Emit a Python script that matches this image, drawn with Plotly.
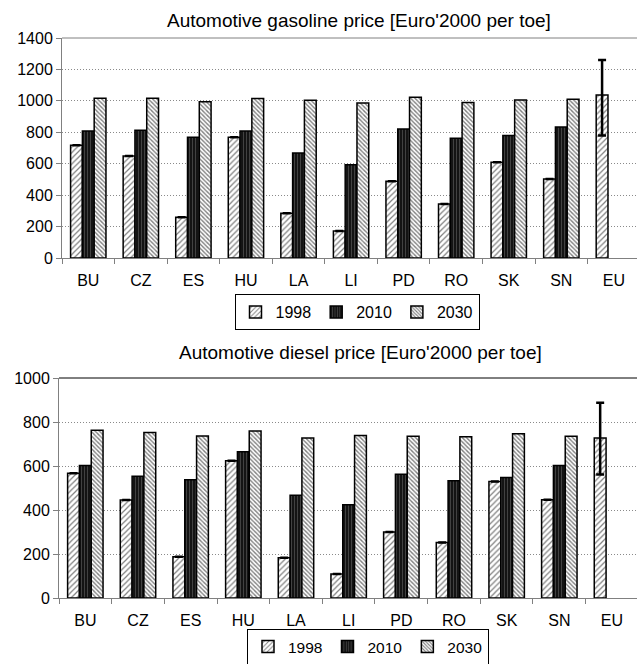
import plotly.graph_objects as go

# Countries (EU average shown as the last category)
countries = ["BU", "CZ", "ES", "HU", "LA", "LI", "PD", "RO", "SK", "SN", "EU"]

# Automotive gasoline price [Euro'2000 per toe]
gas_1998 = [717, 649, 260, 768, 285, 172, 489, 343, 609, 502, 1038]
gas_2010 = [808, 813, 768, 808, 668, 594, 821, 762, 779, 834, None]
gas_2030 = [1017, 1017, 994, 1015, 1004, 987, 1023, 989, 1006, 1011, None]
gas_eu_err_plus = [0, 0, 0, 0, 0, 0, 0, 0, 0, 0, 222]
gas_eu_err_minus = [0, 0, 0, 0, 0, 0, 0, 0, 0, 0, 259]

# Automotive diesel price [Euro'2000 per toe]
die_1998 = [567, 445, 188, 624, 183, 109, 300, 252, 529, 447, 727]
die_2010 = [602, 553, 538, 665, 467, 424, 562, 533, 548, 602, None]
die_2030 = [762, 752, 736, 759, 727, 739, 735, 733, 747, 735, None]
die_eu_err_plus = [0, 0, 0, 0, 0, 0, 0, 0, 0, 0, 161]
die_eu_err_minus = [0, 0, 0, 0, 0, 0, 0, 0, 0, 0, 166]

years = ["1998", "2010", "2030"]

FONT = "Liberation Sans, Arial, sans-serif"

patterns = {
    "1998": dict(shape="/", fgcolor="#000000", bgcolor="#ffffff", size=4, solidity=0.3),
    "2010": dict(shape="|", fgcolor="#7a7a7a", bgcolor="#141414", size=3, solidity=0.3),
    "2030": dict(shape="\\", fgcolor="#000000", bgcolor="#ffffff", size=3, solidity=0.45),
}

fig = go.Figure()


def add_panel(vals, err_plus, err_minus, xa, ya, legend_name):
    for year, v in zip(years, vals):
        kw = {}
        if year == "1998":
            kw["error_y"] = dict(type="data", symmetric=False, array=err_plus,
                                 arrayminus=err_minus, color="#000000",
                                 thickness=2.5, width=4)
        fig.add_trace(go.Bar(
            x=countries, y=v, name=year, xaxis=xa, yaxis=ya,
            legend=legend_name,
            marker=dict(color="#ffffff", pattern=patterns[year],
                        line=dict(color="#000000", width=1.5)),
            **kw,
        ))


add_panel([gas_1998, gas_2010, gas_2030], gas_eu_err_plus, gas_eu_err_minus, "x", "y", "legend")
add_panel([die_1998, die_2010, die_2030], die_eu_err_plus, die_eu_err_minus, "x2", "y2", "legend2")

W, H = 637, 664


def fx(px):
    return px / W


def fy(py):
    return 1 - py / H


xcommon = dict(
    type="category", showgrid=False, showline=True, linecolor="#808080", linewidth=1,
    ticks="outside", tickson="boundaries", ticklen=5, tickcolor="#808080",
    tickfont=dict(family=FONT, size=16, color="#000000"), ticklabelstandoff=8,
    zeroline=False, fixedrange=True, automargin=False,
)
ycommon = dict(
    showgrid=True, gridcolor="#8a8a8a", griddash="1px,2px", gridwidth=1,
    showline=True, linecolor="#808080", linewidth=1,
    ticks="outside", ticklen=5, tickcolor="#808080",
    tickfont=dict(family=FONT, size=16, color="#000000"), ticklabelstandoff=0,
    zeroline=False, fixedrange=True, automargin=False,
)

legend_common = dict(
    orientation="h", xanchor="center", bordercolor="#000000", borderwidth=1,
    bgcolor="#ffffff", font=dict(family=FONT, size=16), itemwidth=30, tracegroupgap=0,
)

fig.update_layout(
    width=W, height=H,
    margin=dict(l=0, r=0, t=0, b=0, autoexpand=False),
    paper_bgcolor="#ffffff", plot_bgcolor="#ffffff",
    barmode="group", bargap=0.327, bargroupgap=0,
    font=dict(family=FONT, size=16, color="#000000"),
    xaxis=dict(xcommon, domain=[fx(62), 1], range=[-0.5, 10.44], anchor="y"),
    yaxis=dict(ycommon, domain=[fy(258), fy(38)], range=[0, 1400], dtick=200, anchor="x"),
    xaxis2=dict(xcommon, domain=[fx(59), 1], range=[-0.5, 10.475], anchor="y2"),
    yaxis2=dict(ycommon, domain=[fy(598), fy(378)], range=[0, 1000], dtick=200, anchor="x2"),
    legend=dict(legend_common, x=fx(357), y=fy(294), yanchor="top"),
    legend2=dict(legend_common, x=fx(368), y=fy(629), yanchor="top",
                 font=dict(family=FONT, size=15.5)),
    showlegend=True,
    annotations=[
        dict(text="Automotive gasoline price [Euro'2000 per toe]", x=fx(359), y=fy(20),
             xref="paper", yref="paper", showarrow=False, xanchor="center", yanchor="middle",
             font=dict(family=FONT, size=19)),
        dict(text="Automotive diesel price [Euro'2000 per toe]", x=fx(360), y=fy(352),
             xref="paper", yref="paper", showarrow=False, xanchor="center", yanchor="middle",
             font=dict(family=FONT, size=19)),
    ],
    shapes=[
        # top border of each plot area
        dict(type="line", xref="paper", yref="paper", x0=fx(62), x1=1, y0=fy(38), y1=fy(38),
             line=dict(color="#808080", width=1)),
        dict(type="line", xref="paper", yref="paper", x0=fx(59), x1=1, y0=fy(378), y1=fy(378),
             line=dict(color="#000000", width=1)),
    ],
)

fig.write_html("out.html")
